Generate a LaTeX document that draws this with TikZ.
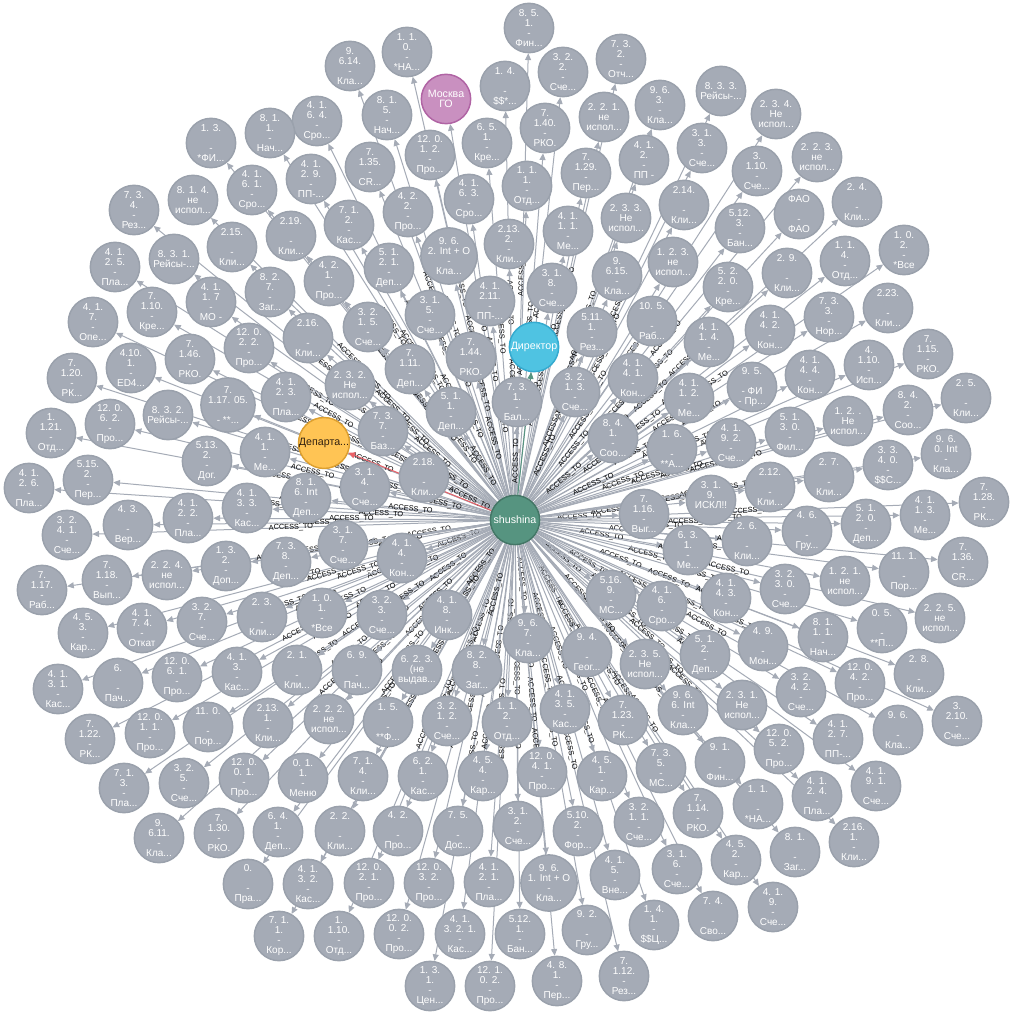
\documentclass[tikz,border=0pt]{standalone}
\usepackage{fontspec}
\setmainfont{Liberation Sans}
\usetikzlibrary{arrows.meta}
\definecolor{nfill}{HTML}{A5ABB6}
\definecolor{nstroke}{HTML}{9AA1AC}
\definecolor{shfill}{HTML}{569480}
\definecolor{shstroke}{HTML}{447666}
\definecolor{dirfill}{HTML}{4FC3E2}
\definecolor{dirstroke}{HTML}{35AACF}
\definecolor{depfill}{HTML}{FFC454}
\definecolor{depstroke}{HTML}{DDA030}
\definecolor{mskfill}{HTML}{C990C0}
\definecolor{mskstroke}{HTML}{B064A4}
\definecolor{edgec}{HTML}{A5ABB6}
\definecolor{redc}{HTML}{EA6168}
\pgfdeclarelayer{bg}
\pgfsetlayers{bg,main}
\newcommand\EmLn{\mbox{}}
\newcommand\gnode[4]{\node[gn] (#1) at (#2,#3) {#4};}
\begin{document}
\begin{tikzpicture}[x=0.75pt,y=-0.75pt,
  base/.style={circle, line width=1.1pt, minimum size=37pt, inner sep=0pt, align=center,
    font=\fontsize{7.5}{7.5}\selectfont},
  gn/.style={base, fill=nfill, draw=nstroke, text=white},
  edg/.style={draw=edgec, line width=0.75pt, -{Triangle[length=5pt,width=4.5pt]}},
  lbl/.style={sloped, midway, inner sep=0.5pt, text=black, font=\fontsize{5.5}{6}\selectfont}]
\useasboundingbox (0,0) rectangle (1013,1016);
\node[base, fill=shfill, draw=shstroke, text=white, font=\fontsize{8}{8}\selectfont] (sh) at (515,520) {shushina};
\node[base, fill=dirfill, draw=dirstroke, text=white, font=\fontsize{8}{8}\selectfont] (dir) at (534,347) {Директор};
\node[base, fill=depfill, draw=depstroke, text=black!75!brown, font=\fontsize{8}{8}\selectfont] (dep) at (324,443) {Департа...};
\node[base, fill=mskfill, draw=mskstroke, text=white, font=\fontsize{8}{8}\selectfont] (msk) at (446,99) {Москва\\ГО};
\gnode{a1}{529}{28}{8. 5.\\1.\\-\\Фин...}
\gnode{a2}{407}{52}{1. 1.\\0.\\-\\{*НА...}}
\gnode{a3}{350}{66}{9.\\6.14.\\-\\Кла...}
\gnode{a4}{563}{72}{3. 2.\\2.\\-\\Сче...}
\gnode{a5}{621}{59}{7. 3.\\2.\\-\\Отч...}
\gnode{a6}{505}{86}{1. 4.\\\EmLn\\-\\\$\$*...}
\gnode{a7}{387}{115}{8. 1.\\5.\\-\\Нач...}
\gnode{a8}{660}{105}{9. 6.\\3.\\-\\Кла...}
\gnode{a9}{721}{91}{8. 3. 3.\\Рейсы-...}
\gnode{a10}{604}{117}{2. 2. 1.\\не\\испол...}
\gnode{a11}{545}{128}{7.\\1.40.\\-\\РКО.}
\gnode{a12}{487}{143}{6. 5.\\1.\\-\\Кре...}
\gnode{a13}{430}{155}{12. 0.\\1. 2.\\-\\Про...}
\gnode{a14}{317}{121}{4. 1.\\6. 4.\\-\\Сро...}
\gnode{a15}{270}{133}{8. 1.\\1.\\-\\Нач...}
\gnode{a16}{211}{143}{1. 3.\\\EmLn\\-\\{*ФИ...}}
\gnode{a17}{776}{114}{2. 3. 4.\\Не\\испол...}
\gnode{a18}{644}{160}{4. 1.\\2.\\-\\ПП -}
\gnode{a19}{702}{148}{3. 1.\\3.\\-\\Сче...}
\gnode{a20}{586}{173}{7.\\1.29.\\-\\Пер...}
\gnode{a21}{370}{167}{7.\\1.35.\\-\\CR...}
\gnode{a22}{311}{179}{4. 1.\\2. 9.\\-\\ПП-...}
\gnode{a23}{252}{190}{4. 1.\\6. 1.\\-\\Сро...}
\gnode{a24}{757}{171}{3.\\1.10.\\-\\Сче...}
\gnode{a25}{817}{157}{2. 2. 3.\\не\\испол...}
\gnode{a26}{527}{186}{1. 1.\\1.\\-\\Отд...}
\gnode{a27}{469}{199}{4. 1.\\6. 3.\\-\\Сро...}
\gnode{a28}{408}{212}{4. 2.\\2.\\-\\Про...}
\gnode{a29}{349}{225}{7. 1.\\2.\\-\\Кас...}
\gnode{a30}{291}{236}{2.19.\\\EmLn\\-\\Кли...}
\gnode{a31}{193}{200}{8. 1. 4.\\не\\испол...}
\gnode{a32}{134}{210}{7. 3.\\4.\\-\\Рез...}
\gnode{a33}{684}{205}{2.14.\\\EmLn\\-\\Кли...}
\gnode{a34}{626}{218}{2. 3. 3.\\Не\\испол...}
\gnode{a35}{568}{231}{4. 1.\\1. 1.\\-\\Ме...}
\gnode{a36}{509}{244}{2.13.\\2.\\-\\Кли...}
\gnode{a37}{449}{256}{9. 6.\\2. Int + O\\-\\Кла...}
\gnode{a38}{740}{228}{5.12.\\3.\\-\\Бан...}
\gnode{a39}{799}{214}{ФАО\\\EmLn\\-\\ФАО}
\gnode{a40}{857}{202}{2. 4.\\\EmLn\\-\\Кли...}
\gnode{a41}{232}{247}{2.15.\\\EmLn\\-\\Кли...}
\gnode{a42}{174}{259}{8. 3. 1.\\Рейсы-...}
\gnode{a43}{115}{267}{4. 1.\\2. 5.\\-\\Пла...}
\gnode{a44}{389}{268}{5. 1.\\2. 1.\\-\\Деп...}
\gnode{a45}{329}{281}{4. 2.\\1.\\-\\Про...}
\gnode{a46}{270}{292}{8. 2.\\7.\\-\\Заг...}
\gnode{a47}{211}{302}{4. 1.\\1. 7\\-\\МО -}
\gnode{a48}{152}{312}{7.\\1.10.\\-\\Кре...}
\gnode{a49}{93}{322}{4. 1.\\7.\\-\\Опе...}
\gnode{a50}{552}{288}{3. 1.\\8.\\-\\Сче...}
\gnode{a51}{617}{276}{9.\\6.15.\\-\\Кла...}
\gnode{a52}{673}{262}{1. 2. 3.\\не\\испол...}
\gnode{a53}{728}{287}{5. 2.\\2. 0.\\-\\Кре...}
\gnode{a54}{787}{273}{2. 9.\\\EmLn\\-\\Кли...}
\gnode{a55}{845}{261}{1. 1.\\4.\\-\\Отд...}
\gnode{a56}{904}{250}{1. 0.\\2.\\-\\{*Все}}
\gnode{a57}{490}{301}{4. 1.\\2.11.\\-\\ПП-...}
\gnode{a58}{430}{315}{3. 1.\\5.\\-\\Сче...}
\gnode{a59}{368}{327}{3. 2.\\1. 5.\\-\\Сче...}
\gnode{a60}{308}{338}{2.16.\\\EmLn\\-\\Кли...}
\gnode{a61}{249}{348}{12. 0.\\2. 2.\\-\\Про...}
\gnode{a62}{190}{359}{7.\\1.46.\\-\\РКО.}
\gnode{a63}{131}{368}{4.10.\\1.\\-\\ED4...}
\gnode{a64}{72}{378}{7.\\1.20.\\-\\РК...}
\gnode{a65}{592}{332}{5.11.\\1.\\-\\Рез...}
\gnode{a66}{652}{321}{10. 5.\\\EmLn\\-\\Раб...}
\gnode{a67}{709}{342}{4. 1.\\1. 4.\\-\\Ме...}
\gnode{a68}{770}{330}{4. 1.\\4. 2.\\-\\Кон...}
\gnode{a69}{829}{317}{7. 3.\\3.\\-\\Нор...}
\gnode{a70}{888}{308}{2.23.\\\EmLn\\-\\Кли...}
\gnode{a71}{471}{357}{7.\\1.44.\\-\\РКО.}
\gnode{a72}{410}{369}{7.\\1.11.\\-\\Деп...}
\gnode{a73}{350}{385}{2. 3. 2.\\Не\\испол...}
\gnode{a74}{286}{397}{4. 1.\\2. 3.\\-\\Пла...}
\gnode{a75}{228}{405}{7.\\1.17. 05.\\\EmLn\\- **...}
\gnode{a76}{168}{415}{8. 3. 2.\\Рейсы-...}
\gnode{a77}{110}{424}{12. 0.\\6. 2.\\-\\Про...}
\gnode{a78}{51}{433}{1.\\1.21.\\-\\Отд...}
\gnode{a79}{517}{402}{7. 3.\\1.\\-\\Бал...}
\gnode{a80}{575}{392}{3. 2.\\1. 3.\\-\\Сче...}
\gnode{a81}{633}{378}{4. 1.\\4. 1.\\-\\Кон...}
\gnode{a82}{689}{398}{4. 1.\\1. 2.\\-\\Ме...}
\gnode{a83}{752}{387}{9. 5.\\\EmLn\\- ФИ\\- Пр...}
\gnode{a84}{810}{375}{4. 1.\\4. 4.\\-\\Кон...}
\gnode{a85}{869}{365}{4.\\1.10.\\-\\Исп...}
\gnode{a86}{928}{354}{7.\\1.15.\\-\\РКО.}
\gnode{a87}{451}{412}{5. 1.\\1.\\-\\Деп...}
\gnode{a88}{383}{431}{7. 3.\\7.\\-\\Баз...}
\gnode{a89}{265}{452}{4. 1.\\1.\\-\\Ме...}
\gnode{a90}{207}{461}{5.13.\\2.\\-\\Дог.}
\gnode{a91}{88}{480}{5.15.\\2.\\-\\Пер...}
\gnode{a92}{29}{488}{4. 1.\\2. 6.\\-\\Пла...}
\gnode{a93}{613}{438}{8. 4.\\1.\\-\\Соо...}
\gnode{a94}{672}{449}{1. 6.\\\EmLn\\-\\{**А...}}
\gnode{a95}{731}{443}{4. 1.\\9. 2.\\-\\Сче...}
\gnode{a96}{790}{432}{5. 1.\\3. 0.\\-\\Фил...}
\gnode{a97}{848}{421}{1. 2. .\\Не\\испол...}
\gnode{a98}{908}{410}{8. 4.\\2.\\-\\Соо...}
\gnode{a99}{966}{398}{2. 5.\\\EmLn\\-\\Кли...}
\gnode{a100}{424}{477}{2.18.\\\EmLn\\-\\Кли...}
\gnode{a101}{365}{487}{3. 1.\\4.\\-\\Сче...}
\gnode{a102}{306}{498}{8. 1.\\6. Int\\-\\Деп...}
\gnode{a103}{247}{508}{4. 1.\\3. 3.\\-\\Кас...}
\gnode{a104}{188}{518}{4. 1.\\2. 2.\\-\\Пла...}
\gnode{a105}{128}{525}{4. 3.\\\EmLn\\-\\Вер...}
\gnode{a106}{67}{535}{3. 2.\\4. 1.\\-\\Сче...}
\gnode{a107}{644}{514}{7.\\1.16.\\-\\Выг...}
\gnode{a108}{711}{500}{3. 1.\\9.\\ИСКЛ!!\\\EmLn}
\gnode{a109}{770}{487}{2.12.\\\EmLn\\-\\Кли...}
\gnode{a110}{829}{477}{2. 7.\\\EmLn\\-\\Кли...}
\gnode{a111}{888}{465}{3. 3.\\4. 0.\\-\\\$\$С...}
\gnode{a112}{946}{454}{9. 6.\\0. Int\\-\\Кла...}
\gnode{a113}{866}{524}{5. 1.\\2. 0.\\-\\Деп...}
\gnode{a114}{925}{515}{4. 1.\\1. 3.\\-\\Ме...}
\gnode{a115}{984}{502}{7.\\1.28.\\-\\РК...}
\gnode{a116}{747}{541}{2. 6.\\\EmLn\\-\\Кли...}
\gnode{a117}{807}{531}{4. 6.\\\EmLn\\-\\Гру...}
\gnode{a118}{688}{550}{6. 3.\\1.\\-\\Ме...}
\gnode{a119}{904}{572}{11. 1.\\\EmLn\\-\\Пор...}
\gnode{a120}{963}{562}{7.\\1.36.\\-\\CR...}
\gnode{a121}{845}{581}{1. 2. 1.\\не\\испол...}
\gnode{a122}{785}{589}{3. 2.\\3. 0.\\-\\Сче...}
\gnode{a123}{726}{598}{4. 1.\\4. 3.\\-\\Кон...}
\gnode{a124}{662}{606}{4. 1.\\6.\\-\\Сро...}
\gnode{a125}{611}{595}{5.16.\\9.\\-\\МС...}
\gnode{a126}{940}{618}{2. 2. 5.\\не\\испол...}
\gnode{a127}{882}{628}{0. 5.\\\EmLn\\-\\{**П...}}
\gnode{a128}{823}{637}{8. 1.\\1. 1.\\-\\Нач...}
\gnode{a129}{763}{646}{4. 9.\\\EmLn\\-\\Мон...}
\gnode{a130}{705}{655}{5. 1.\\2.\\-\\Деп...}
\gnode{a131}{645}{664}{2. 3. 5.\\Не\\испол...}
\gnode{a132}{587}{652}{9. 4.\\\EmLn\\-\\Геог...}
\gnode{a133}{528}{638}{9. 6.\\7.\\-\\Кла...}
\gnode{a134}{919}{674}{2. 8.\\\EmLn\\-\\Кли...}
\gnode{a135}{860}{683}{12. 0.\\4. 2.\\-\\Про...}
\gnode{a136}{801}{692}{3. 2.\\4. 2.\\-\\Сче...}
\gnode{a137}{742}{705}{2. 3. 1.\\Не\\испол...}
\gnode{a138}{683}{710}{9. 6.\\6. Int\\-\\Кла...}
\gnode{a139}{623}{720}{7.\\1.23.\\-\\РК...}
\gnode{a140}{957}{721}{3.\\2.10.\\-\\Сче...}
\gnode{a141}{898}{730}{9. 6.\\\EmLn\\-\\Кла...}
\gnode{a142}{838}{739}{4. 1.\\2. 7.\\-\\ПП-...}
\gnode{a143}{779}{749}{12. 0.\\5. 2.\\-\\Про...}
\gnode{a144}{720}{762}{9. 1.\\\EmLn\\-\\Фин...}
\gnode{a145}{661}{768}{7. 3.\\5.\\-\\МС...}
\gnode{a146}{565}{709}{4. 1.\\3. 5.\\-\\Кас...}
\gnode{a147}{507}{722}{1. 1.\\2.\\-\\Отд...}
\gnode{a148}{447}{721}{3. 2.\\1. 2.\\-\\Сче...}
\gnode{a149}{388}{722}{1. 5.\\\EmLn\\-\\{**Ф...}}
\gnode{a150}{329}{719}{2. 2. 2.\\не\\испол...}
\gnode{a151}{268}{723}{2.13.\\1.\\-\\Кли...}
\gnode{a152}{208}{727}{11. 0.\\\EmLn\\-\\Пор...}
\gnode{a153}{150}{733}{12. 0.\\1. 1.\\-\\Про...}
\gnode{a154}{90}{739}{7.\\1.22.\\-\\РК...}
\gnode{a155}{602}{776}{4. 5.\\1.\\-\\Кар...}
\gnode{a156}{542}{772}{12. 0.\\4. 1.\\-\\Про...}
\gnode{a157}{483}{776}{4. 5.\\4.\\-\\Кар...}
\gnode{a158}{423}{776}{6. 2.\\1.\\-\\Кас...}
\gnode{a159}{363}{776}{7. 1.\\4.\\-\\Кли...}
\gnode{a160}{303}{778}{0. 1.\\1.\\-\\Меню}
\gnode{a161}{244}{778}{12. 0.\\0. 1.\\-\\Про...}
\gnode{a162}{184}{783}{3. 2.\\5.\\-\\Сче...}
\gnode{a163}{124}{788}{7. 1.\\3.\\-\\Пла...}
\gnode{a164}{159}{838}{9.\\6.11.\\-\\Кла...}
\gnode{a165}{219}{833}{7.\\1.30.\\-\\РКО.}
\gnode{a166}{278}{832}{6. 4.\\1.\\-\\Деп...}
\gnode{a167}{340}{831}{2. 2.\\\EmLn\\-\\Кли...}
\gnode{a168}{398}{831}{4. 2.\\\EmLn\\-\\Про...}
\gnode{a169}{458}{831}{7. 5.\\\EmLn\\-\\Дос...}
\gnode{a170}{518}{826}{3. 1.\\2.\\-\\Сче...}
\gnode{a171}{578}{831}{5.10.\\2.\\-\\Фор...}
\gnode{a172}{639}{822}{3. 2.\\1. 1.\\-\\Сче...}
\gnode{a173}{677}{869}{3. 1.\\6.\\-\\Сче...}
\gnode{a174}{698}{813}{7.\\1.14.\\-\\РКО.}
\gnode{a175}{758}{804}{1. 1.\\\EmLn\\-\\{*НА...}}
\gnode{a176}{817}{796}{4. 1.\\2. 4.\\-\\Пла...}
\gnode{a177}{876}{786}{4. 1.\\9. 1.\\-\\Сче...}
\gnode{a178}{736}{860}{4. 5.\\2.\\-\\Кар...}
\gnode{a179}{795}{852}{8. 1.\\\EmLn\\-\\Заг...}
\gnode{a180}{854}{842}{2.16.\\1.\\-\\Кли...}
\gnode{a181}{773}{907}{4. 1.\\9.\\-\\Сче...}
\gnode{a182}{713}{916}{7. 4.\\\EmLn\\-\\Сво...}
\gnode{a183}{654}{925}{1. 4.\\1.\\-\\\$\$Ц...}
\gnode{a184}{615}{875}{4. 1.\\5.\\-\\Вне...}
\gnode{a185}{549}{883}{9. 6.\\1. Int + O\\-\\Кла...}
\gnode{a186}{489}{882}{4. 1.\\2. 1.\\-\\Пла...}
\gnode{a187}{429}{883}{12. 0.\\3. 2.\\-\\Про...}
\gnode{a188}{369}{883}{12. 0.\\2. 1.\\-\\Про...}
\gnode{a189}{308}{884}{4. 1.\\3. 2.\\-\\Кас...}
\gnode{a190}{248}{884}{0.\\\EmLn\\-\\Пра...}
\gnode{a191}{279}{936}{7. 1.\\1.\\-\\Кор...}
\gnode{a192}{339}{936}{1.\\1.10.\\-\\Отд...}
\gnode{a193}{399}{934}{12. 0.\\0. 2.\\-\\Про...}
\gnode{a194}{460}{934}{4. 1.\\3. 2. 1.\\-\\Кас...}
\gnode{a195}{520}{934}{5.12.\\1.\\-\\Бан...}
\gnode{a196}{587}{930}{9. 2.\\\EmLn\\-\\Гру...}
\gnode{a197}{624}{976}{7.\\1.12.\\-\\Рез...}
\gnode{a198}{557}{981}{4. 8.\\1.\\-\\Пер...}
\gnode{a199}{490}{986}{12. 1.\\0. 2.\\-\\Про...}
\gnode{a200}{430}{986}{1. 3.\\1.\\-\\Цен...}
\gnode{a201}{343}{545}{3. 1.\\7.\\-\\Сче...}
\gnode{a202}{402}{558}{4. 1.\\4.\\-\\Кон...}
\gnode{a203}{286}{562}{7. 3.\\8.\\-\\Деп...}
\gnode{a204}{226}{566}{1. 3.\\2.\\-\\Доп...}
\gnode{a205}{167}{575}{2. 2. 4.\\не\\испол...}
\gnode{a206}{107}{580}{7.\\1.18.\\-\\Вып...}
\gnode{a207}{42}{590}{7.\\1.17.\\-\\Раб...}
\gnode{a208}{322}{613}{1. 0.\\1.\\-\\{*Все}}
\gnode{a209}{262}{617}{2. 3.\\\EmLn\\-\\Кли...}
\gnode{a210}{202}{622}{3. 2.\\7.\\-\\Сче...}
\gnode{a211}{142}{628}{4. 1.\\7. 4.\\-\\Откат}
\gnode{a212}{83}{633}{4. 5.\\3.\\-\\Кар...}
\gnode{a213}{382}{615}{3. 2.\\3.\\-\\Сче...}
\gnode{a214}{447}{615}{4. 1.\\8.\\-\\Инк...}
\gnode{a215}{297}{670}{2. 1.\\\EmLn\\-\\Кли...}
\gnode{a216}{237}{672}{4. 1.\\3.\\-\\Кас...}
\gnode{a217}{177}{677}{12. 0.\\6. 1.\\-\\Про...}
\gnode{a218}{118}{683}{6.\\\EmLn\\-\\Пач...}
\gnode{a219}{58}{689}{4. 1.\\3. 1.\\-\\Кас...}
\gnode{a220}{357}{670}{6. 9.\\\EmLn\\-\\Пач...}
\gnode{a221}{417}{670}{6. 2. 3.\\(не\\выдав...}
\gnode{a222}{477}{670}{8. 2.\\8.\\-\\Заг...}
\begin{pgfonlayer}{bg}
\fill[white] (0,0) rectangle (1013,1016);
\foreach \i in {1,...,222}{\draw[edg] (sh) -- node[lbl]{ACCESS\_TO} (a\i);}
\draw[edg] (sh) -- node[lbl]{ACCESS\_TO} (msk);
\draw[edg, draw=redc] (sh) -- (dep);
\draw[edg, draw=shfill] (sh) -- (dir);
\end{pgfonlayer}
\end{tikzpicture}
\end{document}
